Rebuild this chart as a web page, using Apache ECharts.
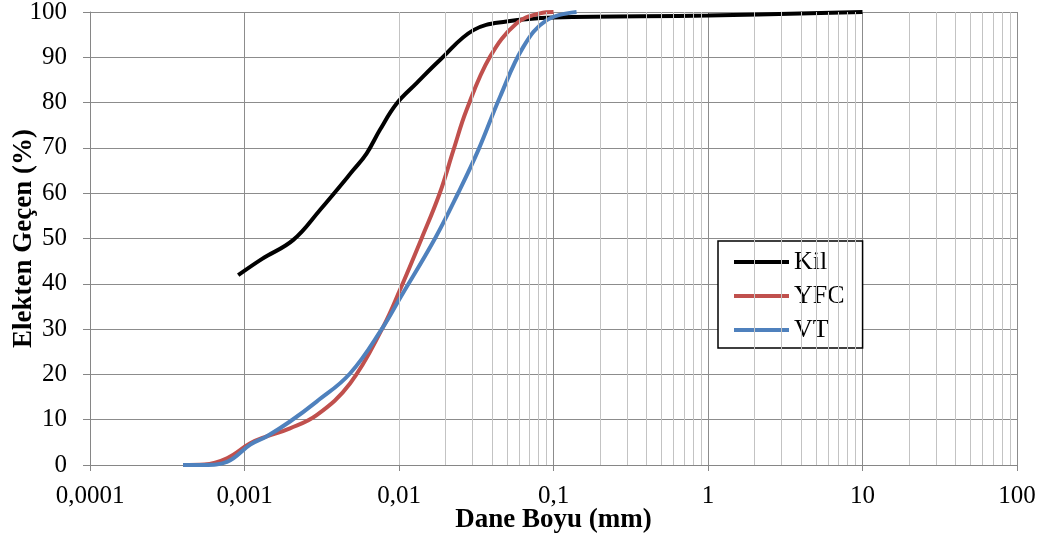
<!DOCTYPE html>
<html>
<head>
<meta charset="utf-8">
<script src="https://cdn.jsdelivr.net/npm/echarts@6/dist/echarts.min.js"></script>
<style>
  html, body { margin: 0; padding: 0; background: #fff; }
  #chart { width: 1044px; height: 539px; }
</style>
</head>
<body>
<div id="chart"></div>
<script>
// grain size distribution
var kilX = [0.00091, 0.0013, 0.00207, 0.00308, 0.00506, 0.00618, 0.00753, 0.00966, 0.013, 0.0184, 0.0303, 0.0497, 0.1, 1, 10];
var kilY = [41.9, 45.5, 49.7, 56.3, 65.1, 68.8, 74, 79.8, 84.3, 89.4, 96, 97.9, 98.8, 99.2, 100];

var yfcX = [0.0004, 0.00055, 0.00077, 0.00109, 0.00139, 0.00197, 0.00293, 0.00482, 0.0079, 0.0101, 0.014, 0.0184, 0.0225, 0.0274, 0.0388, 0.0578, 0.0818, 0.1];
var yfcY = [0, 0.1, 1.5, 4.8, 6.3, 8.1, 11, 18, 30.5, 38.5, 50, 60.1, 69.5, 78.4, 90.1, 97.5, 99.7, 100];

var vtX = [0.0004, 0.00055, 0.00077, 0.00109, 0.00139, 0.00197, 0.00293, 0.00482, 0.0079, 0.0101, 0.0171, 0.0242, 0.0326, 0.0451, 0.0638, 0.0904, 0.141];
var vtY = [0, 0, 0.7, 4.5, 6.3, 9.6, 14, 20.2, 30.5, 36.7, 50, 60.1, 69.5, 81.3, 92.3, 98.2, 100];

var xTicks = [0.0001, 0.001, 0.01, 0.1, 1, 10, 100];

function pairs(xs, ys) {
  return xs.map(function (x, i) { return [x, ys[i]]; });
}

// minor log grid lines 2..9 inside each decade
var minorLines = [];
for (var d = 0; d < xTicks.length - 1; d++) {
  for (var m = 2; m <= 9; m++) {
    minorLines.push({ xAxis: xTicks[d] * m });
  }
}

var font = 'Liberation Serif, Times New Roman, serif';

function fmt(v) {
  var n = Number(Number(v).toPrecision(1));
  return String(n).replace('.', ',');
}

function curve(name, xs, ys, color) {
  return {
    name: name, type: 'line', data: pairs(xs, ys),
    smooth: 0.4,
    showSymbol: false, symbol: 'none', z: 3,
    lineStyle: { color: color, width: 4 }, itemStyle: { color: color }
  };
}

var chart = echarts.init(document.getElementById('chart'));
chart.setOption({
  animation: false,
  textStyle: { fontFamily: font, color: '#000' },
  grid: { left: 90, right: 27, top: 12, bottom: 74, outerBoundsMode: 'none', containLabel: false },
  legend: {
    left: 718, top: 241,
    orient: 'vertical',
    data: ['Kil', 'YFC', 'VT'],
    icon: 'rect',
    itemWidth: 55, itemHeight: 4, itemGap: 8,
    padding: [8, 18, 5, 16],
    borderColor: '#000', borderWidth: 1.5,
    backgroundColor: '#fff',
    textStyle: { fontFamily: font, fontSize: 26, color: '#000' }
  },
  xAxis: {
    type: 'log', logBase: 10, min: 0.0001, max: 100,
    name: 'Dane Boyu (mm)', nameLocation: 'middle', nameGap: 42, nameMoveOverlap: false,
    nameTextStyle: { fontFamily: font, fontSize: 27, fontWeight: 'bold', color: '#000' },
    axisLine: { lineStyle: { color: '#868686' } },
    axisTick: { show: true, length: 6, lineStyle: { color: '#868686' } },
    axisLabel: { fontFamily: font, fontSize: 25, color: '#000', margin: 19, formatter: fmt },
    splitLine: { show: true, lineStyle: { color: '#8c8c8c', width: 1 } },
    minorTick: { show: false },
    minorSplitLine: { show: false }
  },
  yAxis: {
    type: 'value', min: 0, max: 100, interval: 10,
    name: 'Elekten Geçen (%)', nameLocation: 'middle', nameGap: 52, nameMoveOverlap: false,
    nameTextStyle: { fontFamily: font, fontSize: 27, fontWeight: 'bold', color: '#000' },
    axisLine: { show: true, lineStyle: { color: '#868686' } },
    axisTick: { show: true, length: 7, lineStyle: { color: '#868686' } },
    axisLabel: { fontFamily: font, fontSize: 25, color: '#000', margin: 23 },
    splitLine: { show: true, lineStyle: { color: '#8c8c8c', width: 1 } }
  },
  series: [
    {
      name: 'grid-minor', type: 'line', data: [], z: 1, silent: true,
      markLine: {
        silent: true, symbol: 'none', animation: false,
        label: { show: false },
        lineStyle: { color: '#c3c3c3', width: 1, type: 'solid' },
        data: minorLines
      }
    },
    curve('Kil', kilX, kilY, '#000'),
    curve('YFC', yfcX, yfcY, '#c0504d'),
    curve('VT', vtX, vtY, '#4f81bd')
  ]
});
</script>
</body>
</html>
